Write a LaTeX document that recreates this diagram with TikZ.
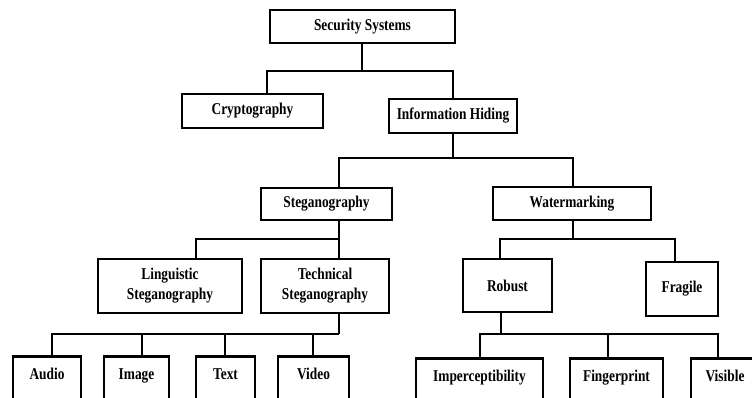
\documentclass[tikz,border=0pt]{standalone}
\usepackage{fontspec}
\setmainfont{Liberation Serif}[FakeStretch=0.81]
\begin{document}
\begin{tikzpicture}[x=1pt,y=-1pt,
  box/.style={draw=black, line width=2.9pt, fill=white, inner sep=0pt, align=center,
    font=\fontsize{16.5}{20}\selectfont\bfseries},
  leaf/.style={box, anchor=north, inner ysep=0pt, text height=23pt, text depth=24pt},
  conn/.style={draw=black, line width=1.3pt},
  thick conn/.style={draw=black, line width=2pt}]
\useasboundingbox (0,0) rectangle (752,398);
\clip (0,0) rectangle (752,398);
\fill[white] (0,0) rectangle (752,398);

% nodes
\node[box, minimum width=185pt, minimum height=33pt] (sec) at (362.5,26.5) {Security Systems};
\node[box, minimum width=141pt, minimum height=34pt] (crypt) at (252.5,111) {Cryptography};
\node[box, minimum width=128pt, minimum height=34pt] (info) at (453,116) {Information Hiding};
\node[box, minimum width=131pt, minimum height=32pt] (steg) at (326.5,204) {Steganography};
\node[box, minimum width=158pt, minimum height=33pt] (water) at (572,203.5) {Watermarking};
\node[box, minimum width=144pt, minimum height=54pt] (ling) at (170,286) {Linguistic\\Steganography};
\node[box, minimum width=128pt, minimum height=54pt] (tech) at (325,286) {Technical\\Steganography};
\node[box, minimum width=89pt, minimum height=53pt] (robust) at (507.5,285.5) {Robust};
\node[box, minimum width=72pt, minimum height=54pt] (fragile) at (682,289) {Fragile};

\node[leaf, minimum width=68pt] (audio) at (47,355) {Audio};
\node[leaf, minimum width=65pt] (image) at (136.5,355) {Image};
\node[leaf, minimum width=59pt] (text) at (225.5,355) {Text};
\node[leaf, minimum width=71pt] (video) at (313.5,355) {Video};
\node[leaf, minimum width=127pt] (imperc) at (479.5,357) {Imperceptibility};
\node[leaf, minimum width=93pt] (finger) at (616.5,357) {Fingerprint};
\node[leaf, minimum width=68pt] (visible) at (725,357) {Visible};

% bus coordinates
\coordinate (t0) at (362,71);
\coordinate (t1) at (267,71);
\coordinate (t2) at (453,71);
\coordinate (i0) at (453,158);
\coordinate (i1) at (339,158);
\coordinate (i2) at (573,158);
\coordinate (s0) at (339,239);
\coordinate (s1) at (196,239);
\coordinate (s2) at (339,239);
\coordinate (w0) at (573,239);
\coordinate (w1) at (500,239);
\coordinate (w2) at (675,239);
\coordinate (v0) at (339,334);
\coordinate (v1) at (52,334);
\coordinate (v2) at (142,334);
\coordinate (v3) at (225,334);
\coordinate (v4) at (313,334);
\coordinate (r0) at (501,334);
\coordinate (r1) at (480,334);
\coordinate (r2) at (608,334);
\coordinate (r3) at (718,334);

% connectors
\draw[conn] (t0 |- sec.south) -- (t0);
\draw[conn] (t1 |- crypt.north) -- (t1) -- (t2) -- (t2 |- info.north);

\draw[conn] (i0 |- info.south) -- (i0);
\draw[conn] (i1 |- steg.north) -- (i1) -- (i2) -- (i2 |- water.north);

\draw[conn] (s0 |- steg.south) -- (s0);
\draw[conn] (s1 |- ling.north) -- (s1) -- (s2) -- (s2 |- tech.north);

\draw[thick conn] (w0 |- water.south) -- (w0);
\draw[thick conn] (w1 |- robust.north) -- (w1) -- (w2) -- (w2 |- fragile.north);

\draw[conn] (v0 |- tech.south) -- (v0);
\draw[conn] (v1 |- audio.north) -- (v1) -- (v0);
\draw[conn] (v2) -- (v2 |- image.north);
\draw[conn] (v3) -- (v3 |- text.north);
\draw[conn] (v4) -- (v4 |- video.north);

\draw[conn] (r0 |- robust.south) -- (r0);
\draw[conn] (r1 |- imperc.north) -- (r1) -- (r3) -- (r3 |- visible.north);
\draw[conn] (r2) -- (r2 |- finger.north);
\end{tikzpicture}
\end{document}
